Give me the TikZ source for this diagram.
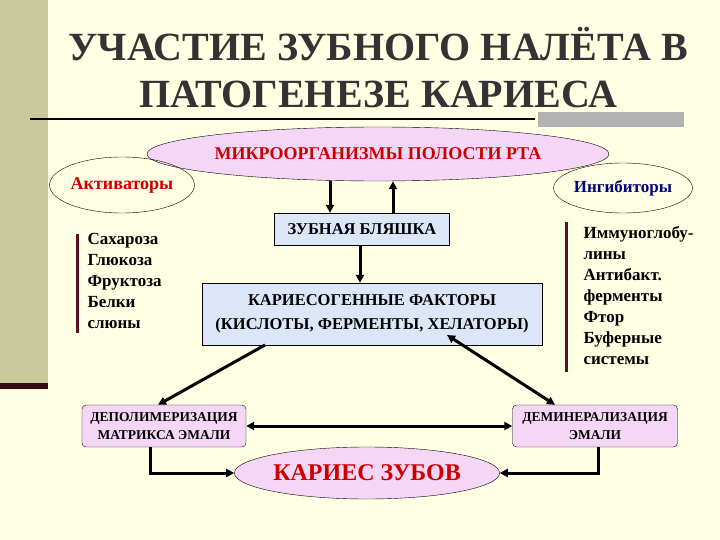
\documentclass[tikz,border=0pt]{standalone}
\usepackage{fontspec}
\setmainfont{Liberation Serif}
\usetikzlibrary{shapes.geometric,arrows.meta}
\definecolor{bg}{HTML}{FFFFE4}
\definecolor{stripe}{HTML}{C9C99B}
\definecolor{maroon}{HTML}{5A1020}
\definecolor{pinkf}{HTML}{F6D6F6}
\definecolor{bluef}{HTML}{DCE6F8}
\definecolor{darkred}{HTML}{CC0000}
\definecolor{navy}{HTML}{000080}
\tikzset{
 arr/.style={line width=3pt,-{Triangle[length=8pt,width=8pt]}},
 darr/.style={line width=3pt,{Triangle[length=8pt,width=8pt]}-{Triangle[length=8pt,width=8pt]}},
 ell/.style={ellipse,draw,thin,inner sep=0pt,font=\bfseries},
 bx/.style={draw,thin,font=\bfseries,align=center,inner sep=1pt},
 lst/.style={anchor=north west,align=left,font=\bfseries\fontsize{17}{21}\selectfont}
}
\begin{document}
\begin{tikzpicture}[x=1pt,y=-1pt]
\useasboundingbox (0,0) rectangle (720,540);
\fill[bg] (0,0) rectangle (720,540);
\fill[stripe] (0,0) rectangle (48,388);
\fill[maroon!60!black] (0,383) rectangle (48,389);
\draw[line width=2pt] (30,119) -- (535,119);
\fill[gray!60] (538,112) rectangle (684,127);
\node[font=\bfseries\fontsize{40}{47}\selectfont,text=black!80,align=center] (title) at (378,68) {УЧАСТИЕ ЗУБНОГО НАЛЁТА В\\ПАТОГЕНЕЗЕ КАРИЕСА};
\node[ell,fill=pinkf,minimum width=384,minimum height=54,text=darkred,font=\bfseries\fontsize{18}{20}\selectfont] (mo) at (378,154) {МИКРООРГАНИЗМЫ ПОЛОСТИ РТА};
\node[ell,minimum width=120,minimum height=56,text=darkred,font=\bfseries\fontsize{18}{20}\selectfont] (act) at (122,185) {Активаторы};
\node[ell,minimum width=114,minimum height=50,text=navy,font=\bfseries\fontsize{17}{20}\selectfont] (inh) at (623,188) {Ингибиторы};
\node[bx,fill=bluef,minimum width=175,minimum height=32,font=\bfseries\fontsize{16.5}{20}\selectfont] (zb) at (362,229) {ЗУБНАЯ БЛЯШКА};
\node[bx,fill=bluef,minimum width=340,minimum height=62,font=\bfseries\fontsize{16.5}{24}\selectfont] (kf) at (372,314) {КАРИЕСОГЕННЫЕ ФАКТОРЫ\\(КИСЛОТЫ, ФЕРМЕНТЫ, ХЕЛАТОРЫ)};
\node[bx,fill=pinkf,rounded corners=4pt,minimum width=164,minimum height=42,font=\bfseries\fontsize{13.5}{18}\selectfont] (dp) at (164,426) {ДЕПОЛИМЕРИЗАЦИЯ\\МАТРИКСА ЭМАЛИ};
\node[bx,fill=pinkf,rounded corners=4pt,minimum width=165,minimum height=42,font=\bfseries\fontsize{13.5}{18}\selectfont] (dm) at (595,426) {ДЕМИНЕРАЛИЗАЦИЯ\\ЭМАЛИ};
\node[ell,fill=pinkf,minimum width=214,minimum height=52,text=darkred,font=\bfseries\fontsize{24}{28}\selectfont] (kz) at (367,473) {КАРИЕС ЗУБОВ};
\node[lst] (al) at (84,230) {Сахароза\\Глюкоза\\Фруктоза\\Белки\\слюны};
\node[lst] (il) at (580,223) {Иммуноглобу-\\лины\\Антибакт.\\ферменты\\Фтор\\Буферные\\системы};
\draw[maroon,line width=3pt] (77,234) -- (77,333);
\draw[maroon,line width=3pt] (566,222) -- (566,372);
\coordinate (x1) at (330,0);
\coordinate (x2) at (393,0);
\coordinate (x3) at (360,0);
\coordinate (x4) at (158,0);
\coordinate (x5) at (555,0);
\coordinate (x6) at (150,0);
\coordinate (x7) at (598,0);
\coordinate (s1) at (265,345);
\coordinate (s2) at (447,335);
\draw[arr] (mo.south -| x1) -- (zb.north -| x1);
\draw[arr] (zb.north -| x2) -- (mo.south -| x2);
\draw[arr] (zb.south -| x3) -- (kf.north -| x3);
\draw[arr] (s1) -- (dp.north -| x4);
\draw[darr] (s2) -- (dm.north -| x5);
\draw[darr] (dp.east) -- (dm.west);
\draw[arr] (dp.south -| x6) |- (kz.west);
\draw[arr] (dm.south -| x7) |- (kz.east);
\end{tikzpicture}
\end{document}
